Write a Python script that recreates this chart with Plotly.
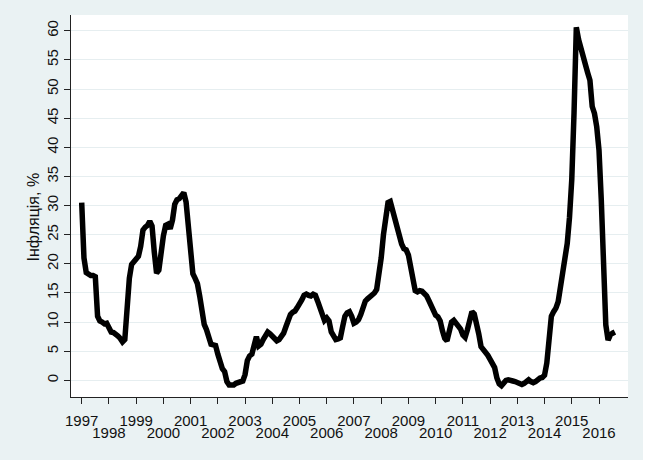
import plotly.graph_objects as go

# Monthly y/y inflation, %, Jan 1997 .. Aug 2016
infl_1997 = [30.5, 21.0, 18.5, 18.2, 18.0, 18.0, 17.8, 11.0, 10.2, 10.0, 9.7, 9.8]
infl_1998 = [9.0, 8.3, 8.2, 8.0, 7.6, 7.2, 6.6, 7.0, 13.0, 17.5, 19.9, 20.4]
infl_1999 = [20.8, 21.3, 23.0, 25.8, 26.3, 26.6, 27.3, 26.5, 22.0, 18.4, 18.9, 22.5]
infl_2000 = [24.8, 26.6, 26.8, 26.0, 27.5, 30.2, 31.0, 31.2, 31.8, 32.2, 30.6, 26.5]
infl_2001 = [22.0, 18.3, 17.5, 16.6, 14.5, 11.5, 9.6, 8.7, 7.0, 6.2, 6.1, 6.0]
infl_2002 = [4.5, 2.8, 2.0, 1.5, -0.2, -0.8, -0.9, -0.8, -0.5, -0.4, -0.3, -0.1]
infl_2003 = [1.0, 3.4, 4.2, 4.5, 6.0, 7.5, 5.9, 6.2, 7.0, 7.6, 8.3, 8.0]
infl_2004 = [7.6, 7.2, 6.8, 7.0, 7.6, 8.1, 9.2, 10.6, 11.3, 11.7, 11.9, 12.5]
infl_2005 = [13.0, 13.8, 14.6, 14.8, 14.6, 14.5, 14.8, 14.6, 13.6, 12.4, 11.2, 10.3]
infl_2006 = [10.7, 10.2, 8.3, 7.5, 7.0, 7.1, 7.3, 9.2, 11.0, 11.6, 11.8, 11.0]
infl_2007 = [9.8, 10.0, 10.4, 11.3, 12.8, 13.6, 14.0, 14.3, 14.6, 15.0, 15.6, 18.0]
infl_2008 = [21.0, 25.0, 28.7, 30.5, 30.7, 29.2, 27.3, 26.0, 24.8, 23.4, 22.6, 22.4]
infl_2009 = [21.5, 19.6, 17.5, 15.4, 15.2, 15.4, 15.3, 15.0, 14.5, 13.7, 12.8, 11.8]
infl_2010 = [11.2, 10.9, 10.2, 8.5, 7.2, 6.8, 8.3, 10.0, 10.3, 9.8, 9.4, 8.8]
infl_2011 = [7.8, 7.4, 8.7, 10.3, 11.8, 11.4, 10.0, 8.0, 5.8, 5.4, 5.0, 4.3]
infl_2012 = [3.6, 3.0, 2.2, 0.4, -0.6, -0.9, -0.3, 0.0, 0.1, 0.1, -0.1, -0.2]
infl_2013 = [-0.3, -0.5, -0.7, -0.5, -0.2, 0.1, -0.2, -0.4, -0.2, 0.2, 0.4, 0.5]
infl_2014 = [0.9, 3.0, 7.0, 11.0, 11.8, 12.4, 13.5, 15.5, 18.5, 21.0, 23.5, 28.0]
infl_2015 = [34.5, 46.0, 60.6, 58.5, 56.8, 55.5, 54.2, 52.8, 51.5, 47.0, 45.8, 43.5]
infl_2016 = [39.5, 31.0, 19.5, 9.5, 6.9, 7.8, 8.1, 8.3]

years_data = list(range(1997, 2017))
yearly = [infl_1997, infl_1998, infl_1999, infl_2000, infl_2001, infl_2002,
          infl_2003, infl_2004, infl_2005, infl_2006, infl_2007, infl_2008,
          infl_2009, infl_2010, infl_2011, infl_2012, infl_2013, infl_2014,
          infl_2015, infl_2016]

x_vals, y_vals = [], []
for yr, vals in zip(years_data, yearly):
    for i, v in enumerate(vals):
        x_vals.append(yr + i / 12.0)
        y_vals.append(v)

tick_years = list(range(1997, 2017))
odd_years = [y for y in tick_years if y % 2 == 1]
even_years = [y for y in tick_years if y % 2 == 0]
y_ticks = list(range(0, 65, 5))

BG = "#EAF2F3"
FONT = "Liberation Sans, Arial, sans-serif"
TXT = "#111111"
XR = [1996.607, 2017.065]
YR = [-2.85, 62.7]

fig = go.Figure()
fig.add_trace(go.Scatter(x=x_vals, y=y_vals, mode="lines",
                         line=dict(color="black", width=5.5),
                         showlegend=False, hoverinfo="skip"))
# invisible copy so the second (label-only) x axis is drawn
fig.add_trace(go.Scatter(x=x_vals, y=y_vals, mode="lines", xaxis="x2",
                         line=dict(color="rgba(0,0,0,0)", width=0),
                         showlegend=False, hoverinfo="skip"))

fig.update_layout(
    width=643, height=460,
    margin=dict(l=71, r=15, t=15, b=63),
    paper_bgcolor=BG, plot_bgcolor="white",
    font=dict(family=FONT, size=15, color=TXT),
    xaxis=dict(range=XR, tickmode="array", tickvals=tick_years,
               ticktext=[str(y) if y % 2 == 1 else "" for y in tick_years],
               ticks="outside", ticklen=6, tickcolor="#222", tickwidth=1,
               showline=True, linecolor="#222", linewidth=1,
               showgrid=False, zeroline=False, ticklabelstandoff=4,
               tickfont=dict(size=15, color=TXT)),
    xaxis2=dict(range=XR, overlaying="x", anchor="y", side="bottom",
                tickmode="array", tickvals=even_years,
                ticktext=[str(y) for y in even_years],
                ticks="", showline=False, showgrid=False, zeroline=False,
                ticklabelstandoff=25,
                tickfont=dict(size=15, color=TXT)),
    yaxis=dict(range=YR, tickmode="array", tickvals=y_ticks,
               ticktext=[str(v) for v in y_ticks],
               tickangle=-90, ticks="outside", ticklen=6, tickcolor="#222",
               showline=True, linecolor="#222", linewidth=1,
               showgrid=True, gridcolor="#E6EEF0", gridwidth=1,
               zeroline=False, tickfont=dict(size=15, color=TXT)),
    annotations=[dict(text="Інфляція, %", textangle=-90,
                      xref="paper", yref="paper", x=0, y=0.47,
                      xanchor="center", yanchor="middle", xshift=-38,
                      showarrow=False, font=dict(size=16, color=TXT, family=FONT))],
)

fig.write_html("out.html")
